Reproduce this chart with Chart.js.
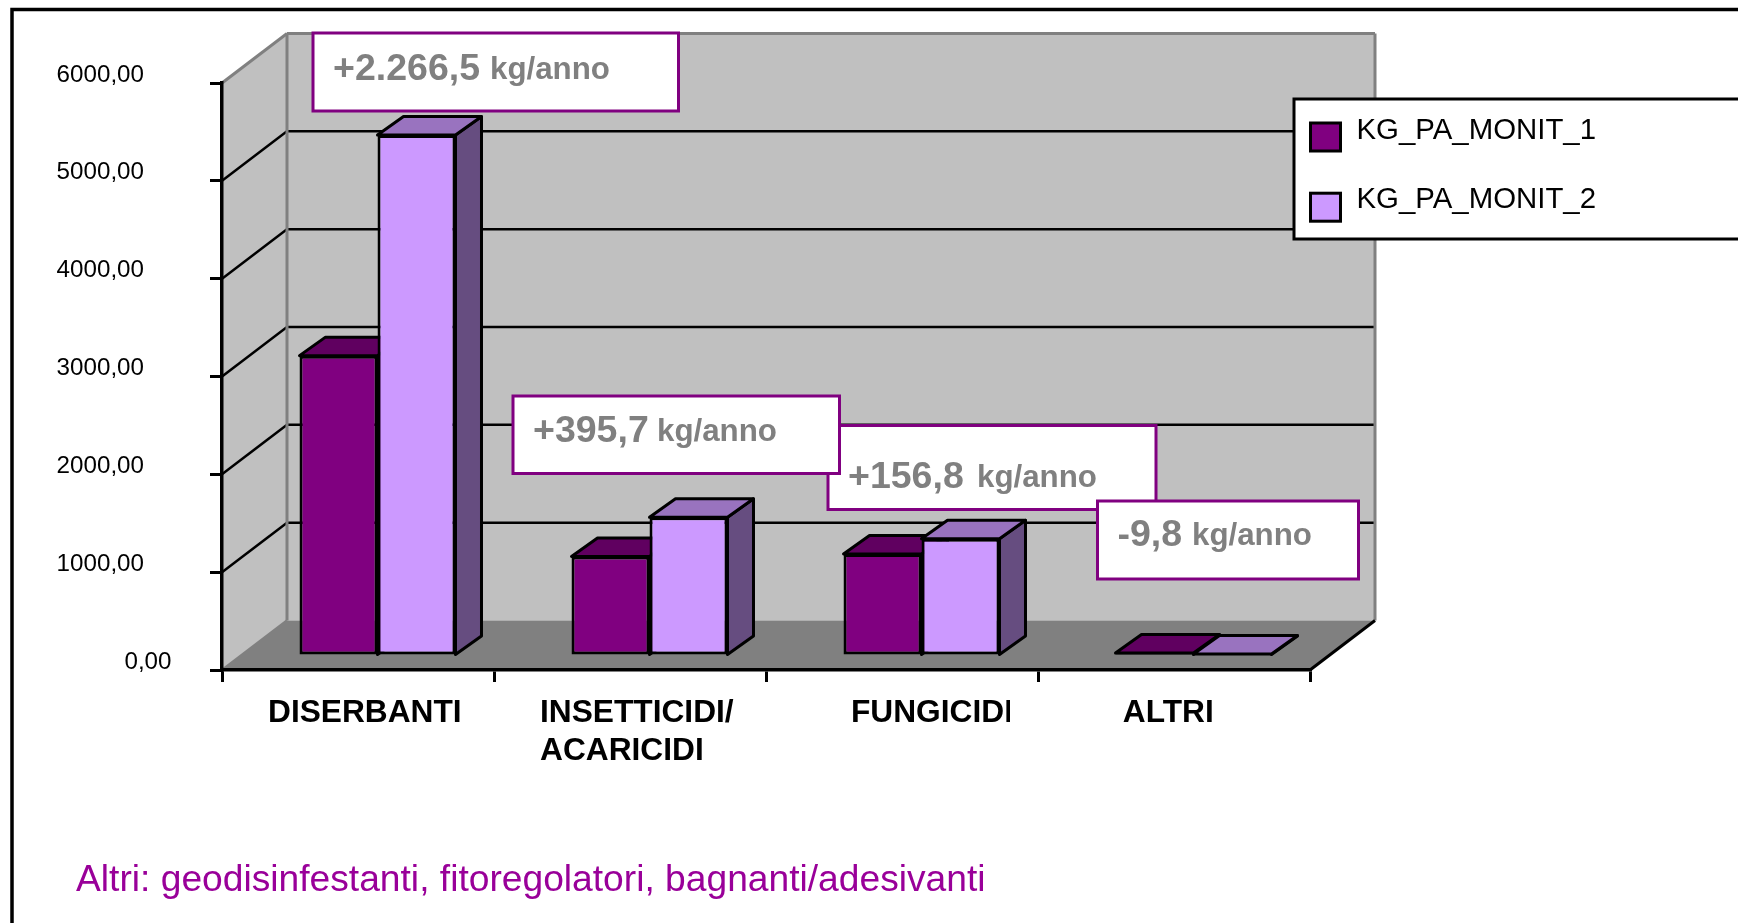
<!DOCTYPE html>
<html>
<head>
<meta charset="utf-8">
<script src="https://cdn.jsdelivr.net/npm/chart.js@4/dist/chart.umd.js"></script>
<style>
  html, body { margin: 0; padding: 0; background: #fff; overflow: hidden; }
  canvas { display: block; }
</style>
</head>
<body>
<canvas id="chart" width="1738" height="923"></canvas>
<script>
const categories = ['DISERBANTI', ['INSETTICIDI/', 'ACARICIDI'], 'FUNGICIDI', 'ALTRI'];
const monit1 = [3070, 1018, 1043, 30];
const monit2 = [5325, 1418, 1198, 20];
const seriesNames = ['KG_PA_MONIT_1', 'KG_PA_MONIT_2'];
const yTickLabels = ['0,00', '1000,00', '2000,00', '3000,00', '4000,00', '5000,00', '6000,00'];
const deltaValues = ['+2.266,5', '+395,7', '+156,8', '-9,8'];
const deltaUnit = 'kg/anno';
const footnote = 'Altri: geodisinfestanti, fitoregolatori, bagnanti/adesivanti';

const FONT = '"Liberation Sans", Arial, sans-serif';
// 3D look: wall depth and how far the bars sit in front of the back wall
const WALL = { dx: 65, dy: -49.5 };
const BAR_SHIFT = { dx: 19.5, dy: -14 };
const BAR_DEPTH = { dx: 26, dy: -18.5 };

// callout boxes, in drawing order (box 2 overlaps box 3)
const calloutBoxes = [
  { i: 0, x: 313, y: 33, w: 365.5, h: 78, tx: 333, unitX: 490, base: 80 },
  { i: 2, x: 828, y: 425.5, w: 328, h: 84, tx: 848, unitX: 977, base: 488 },
  { i: 1, x: 513, y: 396, w: 326.5, h: 77.5, tx: 533, unitX: 657, base: 442 },
  { i: 3, x: 1097.5, y: 501, w: 261, h: 78, tx: 1117.5, unitX: 1192, base: 546 }
];
// category label placement relative to the tick centre
const catLabelX = [-90, -90, -51, -51.2];

function poly(ctx, pts, fill, stroke, lw) {
  ctx.beginPath();
  pts.forEach((p, i) => (i ? ctx.lineTo(p[0], p[1]) : ctx.moveTo(p[0], p[1])));
  ctx.closePath();
  if (fill) { ctx.fillStyle = fill; ctx.fill(); }
  if (stroke) { ctx.strokeStyle = stroke; ctx.lineWidth = lw; ctx.stroke(); }
}

function line(ctx, x1, y1, x2, y2, color, lw) {
  ctx.beginPath();
  ctx.moveTo(x1, y1);
  ctx.lineTo(x2, y2);
  ctx.strokeStyle = color;
  ctx.lineWidth = lw;
  ctx.stroke();
}

const walls3d = {
  id: 'walls3d',
  beforeDraw(chart) {
    const { ctx, scales: { x, y } } = chart;
    const b = y.getPixelForValue(0), t = y.getPixelForValue(6000);
    const { dx, dy } = WALL;
    ctx.save();
    poly(ctx, [[x.left, t], [x.left + dx, t + dy], [x.left + dx, b + dy], [x.left, b]], '#C0C0C0');
    poly(ctx, [[x.left + dx, t + dy], [x.right + dx, t + dy], [x.right + dx, b + dy], [x.left + dx, b + dy]], '#C0C0C0');
    poly(ctx, [[x.left, b], [x.left + dx, b + dy], [x.right + dx, b + dy], [x.right, b]], '#808080');
    y.ticks.forEach(tick => {
      if (tick.value === 0 || tick.value === 6000) return;
      const py = y.getPixelForValue(tick.value);
      line(ctx, x.left, py, x.left + dx, py + dy, '#000', 2.5);
      line(ctx, x.left + dx, py + dy, x.right + dx, py + dy, '#000', 2.5);
    });
    // wall outlines
    line(ctx, x.left, t, x.left + dx, t + dy, '#808080', 3);
    line(ctx, x.left + dx, t + dy, x.right + dx, t + dy, '#808080', 3);
    line(ctx, x.left + dx, t + dy, x.left + dx, b + dy, '#808080', 3);
    line(ctx, x.right + dx, t + dy, x.right + dx, b + dy, '#808080', 3);
    line(ctx, x.left, b, x.left + dx, b + dy, '#808080', 2.5);
    line(ctx, x.right, b, x.right + dx, b + dy, '#000', 3);
    ctx.restore();
  },
  // top and side faces go in first, left series before right, fronts come after
  beforeDatasetsDraw(chart) {
    const { ctx } = chart;
    const { dx, dy } = BAR_DEPTH;
    ctx.save();
    ctx.translate(BAR_SHIFT.dx, BAR_SHIFT.dy);
    ctx.lineJoin = 'round';
    chart.data.datasets.forEach((ds, i) => {
      chart.getDatasetMeta(i).data.forEach(el => {
        const { x, y, base, width } = el.getProps(['x', 'y', 'base', 'width'], true);
        const l = x - width / 2, r = x + width / 2;
        poly(ctx, [[r, y], [r, base], [r + dx, base + dy], [r + dx, y + dy]], ds.sideColor, '#000', 3);
        poly(ctx, [[l, y], [r, y], [r + dx, y + dy], [l + dx, y + dy]], ds.topColor, '#000', 3);
      });
    });
    ctx.restore();
  },
  beforeDatasetDraw(chart) {
    chart.ctx.save();
    chart.ctx.translate(BAR_SHIFT.dx, BAR_SHIFT.dy);
  },
  afterDatasetDraw(chart) {
    chart.ctx.restore();
  },
  afterDatasetsDraw(chart) {
    const { ctx } = chart;
    ctx.save();
    ctx.textBaseline = 'alphabetic';
    ctx.textAlign = 'left';
    calloutBoxes.forEach(c => {
      ctx.fillStyle = '#fff';
      ctx.fillRect(c.x, c.y, c.w, c.h);
      ctx.strokeStyle = '#800080';
      ctx.lineWidth = 3;
      ctx.strokeRect(c.x, c.y, c.w, c.h);
      ctx.fillStyle = '#808080';
      ctx.font = 'bold 37.5px ' + FONT;
      ctx.fillText(deltaValues[c.i], c.tx, c.base);
      ctx.font = 'bold 31.3px ' + FONT;
      ctx.fillText(deltaUnit, c.unitX, c.base - 1);
    });
    ctx.restore();
  },
  afterDraw(chart) {
    const { ctx, scales: { x, y } } = chart;
    ctx.save();
    ctx.textBaseline = 'alphabetic';
    ctx.textAlign = 'left';

    // category labels, left aligned and clipped like the original
    ctx.fillStyle = '#000';
    ctx.font = 'bold 31.7px ' + FONT;
    categories.forEach((label, i) => {
      const lines = Array.isArray(label) ? label : [label];
      const px = x.getPixelForTick(i) + catLabelX[i];
      ctx.save();
      ctx.beginPath();
      ctx.rect(px - 2, 685, i === 2 ? 161 : 300, 90);
      ctx.clip();
      lines.forEach((txt, k) => ctx.fillText(txt, px, 722 + k * 37.6));
      ctx.restore();
    });

    // the zero label sits further right than the other ticks
    ctx.font = '24.2px ' + FONT;
    ctx.textAlign = 'right';
    ctx.textBaseline = 'middle';
    ctx.fillText(yTickLabels[0], 171.5, y.getPixelForValue(0) - 8);
    ctx.textAlign = 'left';
    ctx.textBaseline = 'alphabetic';

    // legend box runs off the right edge
    ctx.fillStyle = '#fff';
    ctx.fillRect(1294, 99, 460, 140);
    ctx.strokeStyle = '#000';
    ctx.lineWidth = 3;
    ctx.strokeRect(1294, 99, 460, 140);
    ctx.font = '29.4px ' + FONT;
    chart.data.datasets.forEach((ds, i) => {
      const top = 123 + i * 70.2;
      ctx.fillStyle = ds.backgroundColor;
      ctx.fillRect(1310.5, top, 30, 28);
      ctx.strokeStyle = '#000';
      ctx.lineWidth = 3;
      ctx.strokeRect(1310.5, top, 30, 28);
      ctx.fillStyle = '#000';
      ctx.fillText(ds.label, 1356.5, 139 + i * 69.4);
    });

    ctx.fillStyle = '#990099';
    ctx.font = '37.2px ' + FONT;
    ctx.fillText(footnote, 76, 891);

    // slide frame, cut by the page on the right and at the bottom
    ctx.strokeStyle = '#000';
    ctx.lineWidth = 3.5;
    ctx.beginPath();
    ctx.moveTo(12, 930);
    ctx.lineTo(12, 9.5);
    ctx.lineTo(1745, 9.5);
    ctx.stroke();
    ctx.restore();
  }
};

new Chart(document.getElementById('chart'), {
  type: 'bar',
  plugins: [walls3d],
  data: {
    labels: categories,
    datasets: [
      { label: seriesNames[0], data: monit1, backgroundColor: '#800080', topColor: '#600060', sideColor: '#400040' },
      { label: seriesNames[1], data: monit2, backgroundColor: '#CC99FF', topColor: '#9973BF', sideColor: '#664D80' }
    ].map(ds => ({
      ...ds,
      borderColor: '#000',
      borderWidth: 3,
      borderSkipped: false,
      categoryPercentage: 0.5735,
      barPercentage: 1,
      clip: false
    }))
  },
  options: {
    responsive: false,
    animation: false,
    layout: { padding: { top: 83, right: 428, bottom: 153, left: 0 } },
    plugins: { legend: { display: false }, tooltip: { enabled: false }, title: { display: false } },
    scales: {
      x: {
        afterFit: s => { s.height = 100; },
        border: { color: '#000', width: 3.5 },
        grid: { drawOnChartArea: false, color: '#000', lineWidth: 3, tickLength: 12 },
        ticks: { display: false }
      },
      y: {
        min: 0,
        max: 6000,
        afterFit: s => { s.width = 222; },
        border: { color: '#000', width: 3.5 },
        grid: { drawOnChartArea: false, color: '#000', lineWidth: 3, tickLength: 12 },
        ticks: {
          stepSize: 1000,
          padding: 66,
          labelOffset: -8,
          color: '#000',
          font: { family: FONT, size: 24.2 },
          callback: v => (v === 0 ? '' : yTickLabels[v / 1000])
        }
      }
    }
  }
});
</script>
</body>
</html>
